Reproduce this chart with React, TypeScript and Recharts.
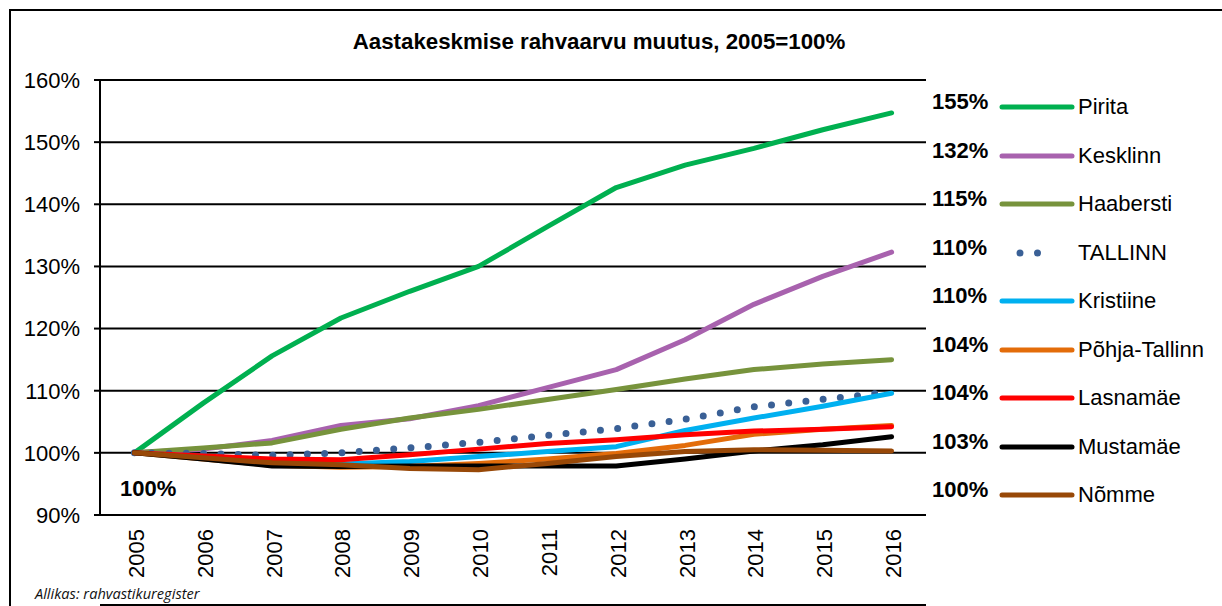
import React from 'react';
import { LineChart, Line, XAxis, YAxis, CartesianGrid, Legend } from 'recharts';

const YEARS = ['2005', '2006', '2007', '2008', '2009', '2010', '2011', '2012', '2013', '2014', '2015', '2016'];

const PIRITA = [100, 108, 115.6, 121.7, 126, 130, 136.4, 142.7, 146.3, 149, 152, 154.7];
const KESKLINN = [100, 100.6, 102, 104.4, 105.5, 107.6, 110.5, 113.4, 118.2, 123.9, 128.4, 132.3];
const HAABERSTI = [100, 100.8, 101.6, 103.8, 105.6, 107, 108.6, 110.2, 111.9, 113.4, 114.3, 115];
const TALLINN = [100, 99.9, 99.6, 100, 100.8, 101.7, 102.8, 103.9, 105.4, 107.4, 108.6, 109.8];
const KRISTIINE = [100, 99.4, 98.7, 98.2, 98.6, 99.4, 100.2, 101, 103.6, 105.6, 107.5, 109.6];
const POHJA_TALLINN = [100, 99, 98, 97.7, 97.8, 98.3, 99, 99.9, 101.2, 103, 103.8, 104.4];
const LASNAMAE = [100, 99.5, 99, 98.9, 99.7, 100.6, 101.5, 102.1, 102.9, 103.5, 103.8, 104.2];
const MUSTAMAE = [100, 99, 97.9, 97.8, 97.9, 97.9, 97.9, 97.9, 99, 100.3, 101.3, 102.6];
const NOMME = [100, 99.2, 98.4, 98.1, 97.5, 97.3, 98.3, 99.4, 100.2, 100.5, 100.4, 100.3];

const Y_TICKS = [90, 100, 110, 120, 130, 140, 150, 160];
const BOUNDARY_TICKS = [-0.5, 0.5, 1.5, 2.5, 3.5, 4.5, 5.5, 6.5, 7.5, 8.5, 9.5, 10.5, 11.5];

const TITLE = 'Aastakeskmise rahvaarvu muutus, 2005=100%';
const SOURCE = 'Allikas: rahvastikuregister';
const BASE_LABEL = '100%';

type SeriesDef = { key: string; name: string; values: number[]; color: string; end: string; dotted?: boolean };

const SERIES: SeriesDef[] = [
  { key: 'pirita', name: 'Pirita', values: PIRITA, color: '#00B050', end: '155%' },
  { key: 'kesklinn', name: 'Kesklinn', values: KESKLINN, color: '#A862AE', end: '132%' },
  { key: 'haabersti', name: 'Haabersti', values: HAABERSTI, color: '#77933C', end: '115%' },
  { key: 'tallinn', name: 'TALLINN', values: TALLINN, color: '#3A6096', end: '110%', dotted: true },
  { key: 'kristiine', name: 'Kristiine', values: KRISTIINE, color: '#00B0F0', end: '110%' },
  { key: 'pohja', name: 'Põhja-Tallinn', values: POHJA_TALLINN, color: '#E36C0A', end: '104%' },
  { key: 'lasnamae', name: 'Lasnamäe', values: LASNAMAE, color: '#FF0000', end: '104%' },
  { key: 'mustamae', name: 'Mustamäe', values: MUSTAMAE, color: '#000000', end: '103%' },
  { key: 'nomme', name: 'Nõmme', values: NOMME, color: '#984807', end: '100%' },
];

const data = YEARS.map((year, i) => {
  const row: Record<string, number | string> = { year };
  SERIES.forEach((s) => {
    row[s.key] = s.values[i];
  });
  return row;
});

const FONT = '"Liberation Sans", Arial, Helvetica, sans-serif';

const YearTick = (props: any) => {
  const { x, y, payload } = props;
  return (
    <text
      x={x + 2}
      y={y}
      transform={`rotate(-90, ${x + 2}, ${y})`}
      textAnchor="end"
      dominantBaseline="central"
      fontFamily={FONT}
      fontSize={22}
      fill="#000"
    >
      {payload.value}
    </text>
  );
};

const LegendContent = () => (
  <div style={{ fontFamily: FONT, color: '#000' }}>
    {SERIES.map((s) => (
      <div key={s.key} style={{ position: 'relative', height: 48.5, width: 297 }}>
        <span
          style={{
            position: 'absolute',
            left: 7,
            top: 7,
            fontSize: 22,
            fontWeight: 'bold',
            lineHeight: '26px',
          }}
        >
          {s.end}
        </span>
        <svg style={{ position: 'absolute', left: 74, top: 19 }} width={76} height={12}>
          {s.dotted ? (
            <line
              x1={21}
              y1={6}
              x2={56}
              y2={6}
              stroke={s.color}
              strokeWidth={7}
              strokeLinecap="round"
              strokeDasharray="0 17.5"
            />
          ) : (
            <line x1={3} y1={6} x2={73} y2={6} stroke={s.color} strokeWidth={5} strokeLinecap="round" />
          )}
        </svg>
        <span style={{ position: 'absolute', left: 153, top: 12, fontSize: 22, lineHeight: '26px' }}>{s.name}</span>
      </div>
    ))}
  </div>
);

export default function App() {
  return (
    <div
      style={{
        position: 'absolute',
        left: 0,
        top: 0,
        width: 1222,
        height: 606,
        overflow: 'hidden',
        background: '#fff',
      }}
    >
      <div
        style={{
          position: 'absolute',
          left: 9,
          top: 9,
          right: -20,
          bottom: -20,
          borderTop: '2px solid #000',
          borderLeft: '2px solid #000',
        }}
      />
      <div
        style={{
          position: 'absolute',
          left: 0,
          top: 29,
          width: 1198,
          textAlign: 'center',
          fontFamily: FONT,
          fontWeight: 'bold',
          fontSize: 22.3,
          lineHeight: '26px',
        }}
      >
        {TITLE}
      </div>
      <LineChart
        width={1222}
        height={606}
        data={data}
        margin={{ top: 80, right: 296, bottom: 0, left: 0 }}
        style={{ position: 'absolute', left: 0, top: 0 }}
      >
        <CartesianGrid vertical={false} stroke="#000" strokeWidth={2} />
        <XAxis
          xAxisId="bounds"
          type="number"
          domain={[-0.5, 11.5]}
          allowDataOverflow
          ticks={BOUNDARY_TICKS}
          tick={false}
          tickSize={7}
          tickLine={{ stroke: '#000', strokeWidth: 2 }}
          axisLine={{ stroke: '#000', strokeWidth: 2 }}
          height={1}
        />
        <XAxis
          dataKey="year"
          scale="band"
          interval={0}
          tickLine={false}
          axisLine={false}
          tickSize={0}
          tickMargin={14}
          tick={<YearTick />}
          height={90}
        />
        <YAxis
          domain={[90, 160]}
          ticks={Y_TICKS}
          interval={0}
          width={100}
          tickSize={6}
          tickMargin={14}
          tickFormatter={(v: number) => `${v}%`}
          tick={{ fontFamily: FONT, fontSize: 22, fill: '#000' }}
          tickLine={{ stroke: '#000', strokeWidth: 2 }}
          axisLine={{ stroke: '#000', strokeWidth: 2 }}
        />
        {SERIES.map((s) => (
          <Line
            key={s.key}
            dataKey={s.key}
            name={s.name}
            type="linear"
            stroke={s.color}
            strokeWidth={s.dotted ? 7 : 5}
            strokeDasharray={s.dotted ? '0 17.3' : undefined}
            strokeLinecap="round"
            strokeLinejoin="round"
            dot={false}
            activeDot={false}
            isAnimationActive={false}
          />
        ))}
        <Legend
          layout="horizontal"
          verticalAlign="middle"
          align="center"
          content={<LegendContent />}
          wrapperStyle={{ position: 'absolute', left: 925, top: 82, width: 297 }}
        />
      </LineChart>
      <div
        style={{
          position: 'absolute',
          left: 120,
          top: 476,
          fontFamily: FONT,
          fontWeight: 'bold',
          fontSize: 22,
          lineHeight: '26px',
        }}
      >
        {BASE_LABEL}
      </div>
      <div
        style={{
          position: 'absolute',
          left: 35,
          top: 584,
          fontFamily: '"Open Sans", "Noto Sans", sans-serif',
          fontStyle: 'italic',
          fontSize: 14.6,
          lineHeight: '18px',
          color: '#111',
        }}
      >
        {SOURCE}
      </div>
    </div>
  );
}
